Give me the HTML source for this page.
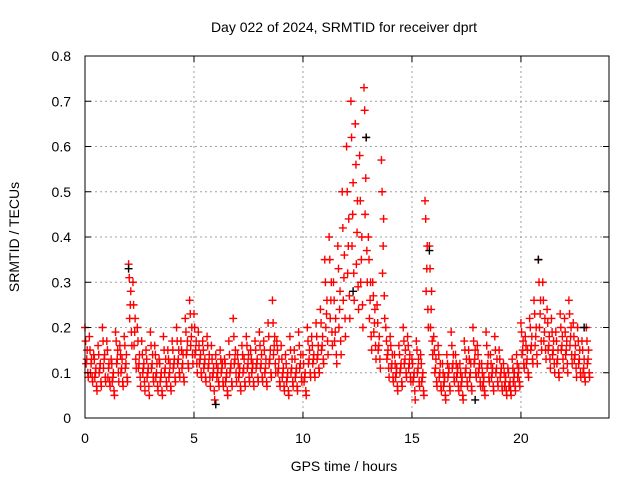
<!DOCTYPE html>
<html><head><meta charset="utf-8"><style>
body{margin:0;background:#fff}
svg text{font-family:"Liberation Sans",sans-serif;font-size:14px;fill:#000}
</style></head><body>
<svg width="640" height="480" xmlns="http://www.w3.org/2000/svg">
<rect width="640" height="480" fill="#fff"/>
<text x="344" y="32" text-anchor="middle">Day 022 of 2024, SRMTID for receiver dprt</text>
<text transform="translate(19,237) rotate(-90)" text-anchor="middle">SRMTID / TECUs</text>
<text x="344" y="471" text-anchor="middle">GPS time / hours</text>
<g id="grid"></g>
<g id="marks"></g>
<rect x="85" y="56" width="524" height="362" fill="none" stroke="#000"/>
<g id="ticks"></g>
</svg>
<script>
const xTicks=[0,5,10,15,20];
const yTicks=[0,0.1,0.2,0.3,0.4,0.5,0.6,0.7,0.8];
const yTickLabels=["0","0.1","0.2","0.3","0.4","0.5","0.6","0.7","0.8"];
const tStep=0.2;
const seriesA=[20,18,14,16,20,17,13,19,16,18,34,30,20,17,15,19,16,13,18,15,17,20,17,22,26,23,19,17,18,16,14,15,13,17,22,14,16,18,15,17,19,17,21,26,17,16,14,18,15,19,14,20,18,21,24,35,40,30,38,50,60,70,65,58,73,40,30,25,57,20,18,14,16,20,18,13,17,14,48,38,18,16,12,14,19,14,12,17,15,20,16,12,19,14,18,15,12,11,13,14,21,18,22,26,35,30,24,22,19,23,22,26,21,20,17,20];
const seriesB=[15,13,11,12,14,12,10,15,13,14,28,22,14,12,11,14,12,10,13,12,13,15,14,17,20,17,14,13,14,11,11,12,10,12,15,11,13,14,12,13,14,13,15,18,13,11,10,13,11,14,10,15,14,16,18,26,30,22,28,36,44,52,48,40,62,30,24,18,44,15,14,11,12,15,14,10,13,10,38,28,13,12,9,11,14,11,9,13,12,15,12,9,14,11,13,11,9,8,10,11,17,15,18,20,26,22,18,17,15,18,17,20,16,15,13,15];
const seriesC=[12,10,9,10,11,9,8,12,10,11,22,16,11,10,9,11,9,8,10,9,11,12,11,14,16,14,12,11,11,9,9,10,8,10,12,9,10,11,10,11,11,10,12,14,10,9,8,10,9,11,8,12,12,13,15,20,22,17,20,26,32,38,34,30,45,22,19,15,32,13,11,9,10,12,11,8,10,8,28,20,10,9,7,9,11,9,7,10,9,12,10,7,11,9,10,9,7,7,8,9,14,12,15,16,20,17,15,14,12,15,14,16,13,12,10,12];
const seriesD=[9,8,6,7,8,7,5,8,7,8,16,11,7,6,5,8,6,5,7,6,8,9,8,11,12,10,9,8,7,4,7,7,5,7,8,6,7,8,7,8,8,7,9,10,7,6,5,7,6,8,5,9,9,10,12,14,16,12,14,18,22,26,24,20,30,15,13,11,22,9,8,6,7,9,8,4,7,5,20,14,7,6,4,6,8,6,4,7,6,9,7,5,8,6,7,6,5,5,6,7,11,9,12,12,15,13,11,10,9,11,10,12,9,9,8,9];
const seriesE=[17,15,13,14,17,15,12,17,14,16,31,25,17,14,13,16,14,12,15,13,15,17,15,19,23,20,16,15,16,13,12,13,12,14,18,12,14,16,13,15,16,15,18,21,15,13,12,15,13,16,12,17,16,18,21,30,35,26,33,42,50,62,56,48,68,35,27,21,50,17,16,12,14,17,16,12,15,12,44,33,15,14,10,12,16,12,10,15,13,17,14,10,16,12,15,13,10,10,11,12,19,16,20,23,30,26,21,19,17,20,19,23,18,17,15,17];
const seriesF=[13,12,10,11,13,11,9,13,11,12,25,19,12,11,10,12,10,9,11,10,12,13,12,15,18,15,13,12,12,10,10,11,9,11,13,10,11,12,11,12,12,11,13,16,11,10,9,11,10,12,9,13,13,14,16,23,26,19,24,31,38,45,41,35,53,26,21,16,38,14,12,10,11,13,12,9,11,9,33,24,11,10,8,10,12,10,8,11,10,13,11,8,12,10,11,10,8,7,9,10,15,13,16,18,23,19,16,15,13,16,15,18,14,13,11,13];
const seriesG=[10,9,7,8,9,8,6,10,8,9,19,13,9,8,7,9,7,6,8,7,9,10,9,12,14,12,10,9,9,6,8,8,6,8,10,7,8,9,8,9,9,8,10,12,8,7,6,8,7,9,6,10,10,11,13,17,19,14,17,22,27,32,29,25,37,18,16,13,27,11,9,7,8,10,9,6,8,6,24,17,8,7,5,7,9,7,5,8,7,10,8,6,9,7,8,7,6,6,7,8,12,10,13,14,17,15,13,12,10,13,12,14,11,10,9,10];
const blackT=[2.0,12.3,12.9,15.8,20.8,22.9,6.0,17.9];
const blackV=[0.33,0.28,0.62,0.37,0.35,0.2,0.03,0.04];
const NS="http://www.w3.org/2000/svg";
const X0=85,X1=609,Y0=418,Y1=56,XMAX=24.04;
function xs(t){return X0+(t/XMAX)*(X1-X0);}
function ys(v){return Y0-(v/0.8)*(Y0-Y1);}
const grid=document.getElementById('grid'),ticks=document.getElementById('ticks'),marks=document.getElementById('marks');
function mk(tag,attrs,parent){const e=document.createElementNS(NS,tag);for(const k in attrs)e.setAttribute(k,attrs[k]);parent.appendChild(e);return e;}
xTicks.forEach(t=>{
  const x=xs(t);
  if(t>0){const g=mk('line',{x1:x,x2:x,y1:Y1,y2:Y0,stroke:'#a0a0a0','stroke-dasharray':'2,3'},grid);
  
  }
  mk('line',{x1:x,x2:x,y1:Y0,y2:Y0-6,stroke:'#000'},ticks);
  mk('line',{x1:x,x2:x,y1:Y1,y2:Y1+6,stroke:'#000'},ticks);
  const l=mk('text',{x:x,y:443,'text-anchor':'middle'},ticks);l.textContent=t;
  
  
});
yTicks.forEach((v,i)=>{
  const y=ys(v);
  if(i>0&&i<yTicks.length-1){const g=mk('line',{x1:X0,x2:X1,y1:y,y2:y,stroke:'#a0a0a0','stroke-dasharray':'2,3'},grid);
  
  }
  mk('line',{x1:X0,x2:X0+6,y1:y,y2:y,stroke:'#000'},ticks);
  mk('line',{x1:X1,x2:X1-6,y1:y,y2:y,stroke:'#000'},ticks);
  const l=mk('text',{x:71,y:y+5,'text-anchor':'end'},ticks);l.textContent=yTickLabels[i];
  
  
});
function plus(t,v,color){
  const x=xs(t),y=ys(v);
  const p=mk('path',{d:`M${x-4},${y}H${x+4}M${x},${y-4}V${y+4}`,stroke:color,'stroke-width':1.4,fill:'none'},marks);
  
  
}
const offs=[0,0.1,0.05,0.15,0.03,0.08,0.13];
[seriesA,seriesB,seriesC,seriesD,seriesE,seriesF,seriesG].forEach((s,k)=>{
  s.forEach((v,i)=>plus(i*tStep+offs[k],v/100,'#ff0000'));
});
blackT.forEach((t,i)=>plus(t,blackV[i],'#000'));
</script>
</body></html>
